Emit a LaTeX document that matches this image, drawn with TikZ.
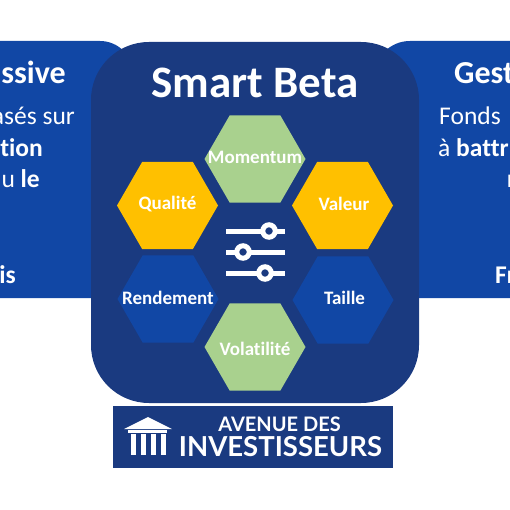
\documentclass[tikz,border=0pt]{standalone}
\usepackage{fontspec}
\setmainfont{Carlito}[Ligatures=NoCommon]
\newfontfamily\logofont{Lato}
\usetikzlibrary{shapes.geometric}
\definecolor{sidecol}{HTML}{1147A5}
\definecolor{maincol}{HTML}{1A3A80}
\definecolor{goldcol}{HTML}{FFC000}
\definecolor{greencol}{HTML}{A9D18E}
\tikzset{
  hexa/.style={regular polygon, regular polygon sides=6, minimum size=101pt, inner sep=0pt},
  hexalabel/.style={inner sep=0pt, text=white, font=\fontsize{19}{21}\selectfont\bfseries},
  sidetext/.style={text=white, inner sep=0pt, font=\fontsize{25.5}{28}\selectfont},
  sidehead/.style={text=white, inner sep=0pt, font=\fontsize{32}{34}\selectfont\bfseries},
  slider/.style={draw=white, line width=5pt},
  knob/.style={circle, draw=white, line width=5pt, fill=maincol, minimum size=12.5pt, inner sep=0pt},
}
\begin{document}
\begin{tikzpicture}[x=1pt, y=-1pt]
    \useasboundingbox (0,0) rectangle (510,510);
    \clip (0,0) rectangle (510,510);
    % side panels
    \fill[sidecol, rounded corners=33pt] (-60,41) rectangle (133,298);
    \fill[sidecol, rounded corners=36pt] (374,41) rectangle (570,298);
    \node[sidehead, anchor=base east] (headleft) at (66,84) {ssive};
    \node[sidetext, anchor=base east] (textleft1) at (75,125) {asés sur};
    \node[sidetext, anchor=base east] (textleft2) at (43,157) {\bfseries tion};
    \node[sidetext, anchor=base east] (textleft3) at (40,188) {u \bfseries le};
    \node[sidetext, anchor=base east] (textleft4) at (16,283) {\bfseries is};
    \node[sidehead, anchor=base west] (headright) at (454,84) {Gest};
    \node[sidetext, anchor=base west] (textright1) at (439,125) {Fonds};
    \node[sidetext, anchor=base west] (textright2) at (438,157) {à \bfseries battr};
    \node[sidetext, anchor=base west] (textright3) at (507,188) {\bfseries r};
    \node[sidetext, anchor=base west] (textright4) at (495,283) {\bfseries Fr};
    % centre panel
    \fill[maincol, rounded corners=58pt] (91,42) rectangle (419,403);
    \node[text=white, inner sep=0pt, font=\fontsize{45}{47}\selectfont\bfseries] (title) at (255,83) {Smart Beta};
    % hexagons
    \node[hexa, fill=greencol] (momentum) at (255,159) {};
    \node[hexa, fill=goldcol] (qualite) at (167.5,205.5) {};
    \node[hexa, fill=goldcol] (valeur) at (342.5,205.5) {};
    \node[hexa, fill=sidecol] (rendement) at (168,299) {};
    \node[hexa, fill=sidecol] (taille) at (343,300) {};
    \node[hexa, fill=greencol] (volatilite) at (255,347) {};
    \node[hexalabel] (momentumlabel) at (255,157.5) {Momentum};
    \node[hexalabel] (qualitelabel) at (167.5,204.5) {Qualité};
    \node[hexalabel] (valeurlabel) at (344,204) {Valeur};
    \node[hexalabel] (rendementlabel) at (168,298) {Rendement};
    \node[hexalabel] (taillelabel) at (344.5,298) {Taille};
    \node[hexalabel] (volatilitelabel) at (255,348.5) {Volatilité};
    % sliders
    \foreach \y/\k in {231/269, 252/243, 273/265} {
      \draw[slider] (226,\y) -- (285,\y);
      \node[knob] at (\k,\y) {};
    }
    % logo
    \fill[maincol] (113,406) rectangle (393,468);
    \fill[white] (124,429) -- (148,417) -- (172,429) -- cycle;
    \fill[white] (128,430) rectangle (167,433);
    \foreach \x in {131,141,151,161}
      \fill[white] (\x,434) rectangle (\x+5,455);
    \node[text=white, inner sep=0pt, font=\logofont\bfseries\fontsize{20}{22}\selectfont] (logotop) at (279.5,424) {AVENUE DES};
    \node[text=white, inner sep=0pt, font=\logofont\bfseries\fontsize{27.5}{29}\selectfont] (logobottom) at (280.5,446.5) {INVESTISSEURS};
\end{tikzpicture}
\end{document}
